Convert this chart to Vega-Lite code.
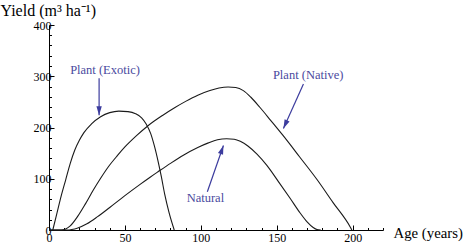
{
  "$schema": "https://vega.github.io/schema/vega-lite/v6.json",
  "autosize": "none",
  "width": 334,
  "height": 205,
  "padding": {"left": 49, "top": 25, "right": 81, "bottom": 22},
  "background": "white",
  "config": {
    "view": {"stroke": null},
    "axis": {
      "grid": false,
      "domainColor": "#000",
      "domainWidth": 1,
      "tickColor": "#000",
      "tickWidth": 1,
      "labelFont": "Liberation Serif",
      "labelFontSize": 12,
      "labelColor": "#000",
      "titleFont": "Liberation Serif",
      "titleFontSize": 16,
      "titleFontWeight": "normal",
      "titleColor": "#000"
    }
  },
  "resolve": {"axis": {"x": "independent", "y": "independent"}},
  "datasets": {
    "curves": [
      {"series": "Exotic", "age": 2.5, "yield": 0},
      {"series": "Exotic", "age": 5, "yield": 30},
      {"series": "Exotic", "age": 8, "yield": 66},
      {"series": "Exotic", "age": 11, "yield": 98},
      {"series": "Exotic", "age": 14, "yield": 130},
      {"series": "Exotic", "age": 17, "yield": 156},
      {"series": "Exotic", "age": 20, "yield": 175},
      {"series": "Exotic", "age": 23, "yield": 190},
      {"series": "Exotic", "age": 28, "yield": 207},
      {"series": "Exotic", "age": 34, "yield": 221},
      {"series": "Exotic", "age": 40, "yield": 229},
      {"series": "Exotic", "age": 46, "yield": 232},
      {"series": "Exotic", "age": 52, "yield": 231},
      {"series": "Exotic", "age": 57, "yield": 227},
      {"series": "Exotic", "age": 61, "yield": 219},
      {"series": "Exotic", "age": 64, "yield": 207},
      {"series": "Exotic", "age": 67, "yield": 188},
      {"series": "Exotic", "age": 69.5, "yield": 163},
      {"series": "Exotic", "age": 72, "yield": 132},
      {"series": "Exotic", "age": 74, "yield": 104},
      {"series": "Exotic", "age": 76.2, "yield": 70},
      {"series": "Exotic", "age": 79, "yield": 35},
      {"series": "Exotic", "age": 82.5, "yield": 0},
      {"series": "Native", "age": 0, "yield": 0},
      {"series": "Native", "age": 8, "yield": 0},
      {"series": "Native", "age": 11, "yield": 2},
      {"series": "Native", "age": 14, "yield": 8},
      {"series": "Native", "age": 19, "yield": 27},
      {"series": "Native", "age": 24, "yield": 51},
      {"series": "Native", "age": 29, "yield": 77},
      {"series": "Native", "age": 34, "yield": 101},
      {"series": "Native", "age": 39, "yield": 123},
      {"series": "Native", "age": 45, "yield": 145},
      {"series": "Native", "age": 50, "yield": 162},
      {"series": "Native", "age": 58, "yield": 185},
      {"series": "Native", "age": 65, "yield": 203},
      {"series": "Native", "age": 75, "yield": 224},
      {"series": "Native", "age": 83, "yield": 239},
      {"series": "Native", "age": 90, "yield": 251},
      {"series": "Native", "age": 98, "yield": 263},
      {"series": "Native", "age": 106, "yield": 272},
      {"series": "Native", "age": 112, "yield": 277},
      {"series": "Native", "age": 118, "yield": 279},
      {"series": "Native", "age": 123, "yield": 278},
      {"series": "Native", "age": 128, "yield": 272},
      {"series": "Native", "age": 133, "yield": 259},
      {"series": "Native", "age": 139, "yield": 239},
      {"series": "Native", "age": 146, "yield": 214},
      {"series": "Native", "age": 154, "yield": 185},
      {"series": "Native", "age": 165, "yield": 143},
      {"series": "Native", "age": 176.4, "yield": 99},
      {"series": "Native", "age": 187, "yield": 54},
      {"series": "Native", "age": 198.4, "yield": 6},
      {"series": "Native", "age": 199.5, "yield": 0},
      {"series": "Natural", "age": 0, "yield": 0},
      {"series": "Natural", "age": 12, "yield": 0},
      {"series": "Natural", "age": 15, "yield": 1},
      {"series": "Natural", "age": 19, "yield": 4},
      {"series": "Natural", "age": 25, "yield": 12},
      {"series": "Natural", "age": 32, "yield": 26},
      {"series": "Natural", "age": 40, "yield": 44},
      {"series": "Natural", "age": 50, "yield": 67},
      {"series": "Natural", "age": 60, "yield": 89},
      {"series": "Natural", "age": 66.6, "yield": 103},
      {"series": "Natural", "age": 72, "yield": 114},
      {"series": "Natural", "age": 80, "yield": 130},
      {"series": "Natural", "age": 88.5, "yield": 146},
      {"series": "Natural", "age": 98, "yield": 161},
      {"series": "Natural", "age": 105, "yield": 170},
      {"series": "Natural", "age": 111, "yield": 176},
      {"series": "Natural", "age": 117, "yield": 178},
      {"series": "Natural", "age": 122, "yield": 177},
      {"series": "Natural", "age": 126, "yield": 173},
      {"series": "Natural", "age": 131, "yield": 164},
      {"series": "Natural", "age": 137, "yield": 148},
      {"series": "Natural", "age": 143.5, "yield": 126},
      {"series": "Natural", "age": 151, "yield": 95},
      {"series": "Natural", "age": 158.8, "yield": 62},
      {"series": "Natural", "age": 165, "yield": 35},
      {"series": "Natural", "age": 170, "yield": 16},
      {"series": "Natural", "age": 174, "yield": 5},
      {"series": "Natural", "age": 176.5, "yield": 1},
      {"series": "Natural", "age": 179, "yield": 0}
    ],
    "labels": [
      {"label": "Plant (Exotic)", "age": 36.9, "yield": 313},
      {"label": "Plant (Native)", "age": 170.7, "yield": 303},
      {"label": "Natural", "age": 103, "yield": 63}
    ],
    "arrows": [
      {"age": 33, "yield": 296, "age2": 33, "yield2": 224, "angle": 180},
      {"age": 167.6, "yield": 285, "age2": 154.4, "yield2": 198, "angle": 204},
      {"age": 104.3, "yield": 74.5, "age2": 114.9, "yield2": 165, "angle": 19}
    ]
  },
  "layer": [
    {
      "data": {"name": "curves"},
      "mark": {"type": "line", "interpolate": "monotone", "color": "#1a1a1a", "strokeWidth": 1.1},
      "encoding": {
        "x": {
          "field": "age", "type": "quantitative",
          "scale": {"domain": [0, 220], "nice": false, "zero": true},
          "axis": {
            "orient": "bottom",
            "values": [0, 50, 100, 150, 200],
            "tickSize": -5,
            "labelPadding": 7,
            "labelOverlap": false,
            "labelFlush": false,
            "title": "Age (years)",
            "titleFontSize": 14.8,
            "titleAlign": "left",
            "titleBaseline": "alphabetic",
            "titleX": 344,
            "titleY": 7
          }
        },
        "y": {
          "field": "yield", "type": "quantitative",
          "scale": {"domain": [0, 400], "nice": false},
          "axis": {
            "orient": "left",
            "values": [0, 100, 200, 300, 400],
            "tickSize": -5,
            "labelPadding": 3,
            "labelOverlap": false,
            "labelFlush": false,
            "title": "Yield (m³ ha⁻¹)",
            "titleAngle": 0,
            "titleAlign": "left",
            "titleBaseline": "alphabetic",
            "titleX": -49,
            "titleY": -10
          }
        },
        "detail": {"field": "series"}
      }
    },
    {
      "data": {"name": "arrows"},
      "mark": {"type": "rule", "color": "#3c3c9e", "strokeWidth": 1.2},
      "encoding": {
        "x": {
          "field": "age", "type": "quantitative",
          "axis": {
            "orient": "bottom",
            "values": [10, 20, 30, 40, 60, 70, 80, 90, 110, 120, 130, 140, 160, 170, 180, 190, 210, 220],
            "tickSize": -2.5,
            "labels": false,
            "domain": false,
            "title": null
          }
        },
        "y": {
          "field": "yield", "type": "quantitative",
          "axis": {
            "orient": "left",
            "values": [20, 40, 60, 80, 120, 140, 160, 180, 220, 240, 260, 280, 320, 340, 360, 380],
            "tickSize": -2.5,
            "labels": false,
            "domain": false,
            "title": null
          }
        },
        "x2": {"field": "age2"},
        "y2": {"field": "yield2"}
      }
    },
    {
      "data": {"name": "arrows"},
      "mark": {"type": "point", "shape": "M0,0L-0.3,1L0.3,1Z", "filled": true, "color": "#3c3c9e", "opacity": 1, "size": 324, "strokeWidth": 0},
      "encoding": {
        "x": {"field": "age2", "type": "quantitative", "axis": null},
        "y": {"field": "yield2", "type": "quantitative", "axis": null},
        "angle": {"field": "angle", "type": "quantitative", "scale": null}
      }
    },
    {
      "data": {"name": "labels"},
      "mark": {"type": "text", "font": "Liberation Serif", "fontSize": 12.5, "color": "#4a4a9e", "align": "center", "baseline": "middle"},
      "encoding": {
        "x": {"field": "age", "type": "quantitative", "axis": null},
        "y": {"field": "yield", "type": "quantitative", "axis": null},
        "text": {"field": "label"}
      }
    }
  ]
}
